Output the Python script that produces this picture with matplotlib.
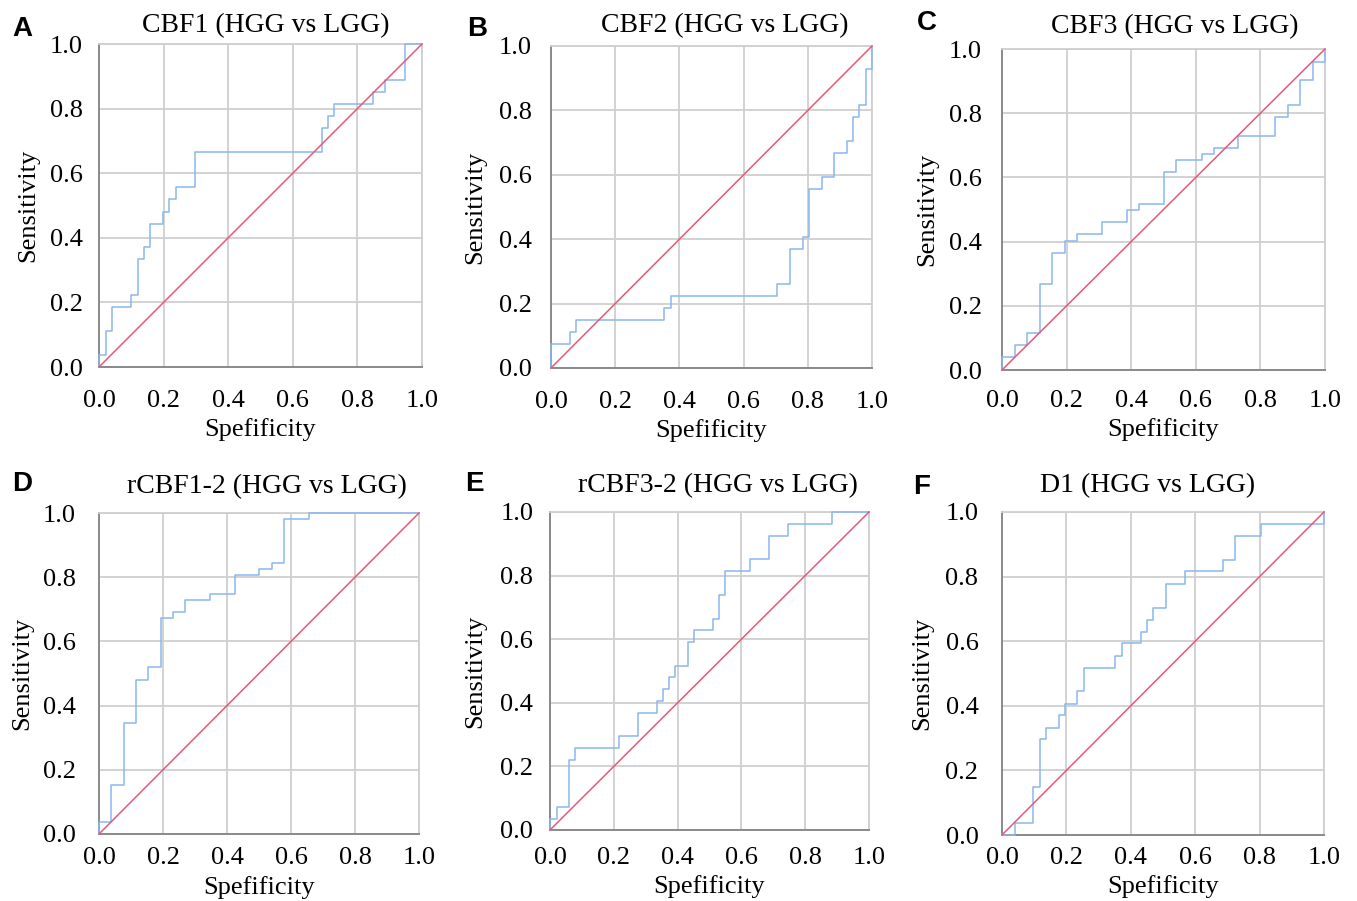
import matplotlib
matplotlib.use("Agg")
import matplotlib.pyplot as plt

# ROC step data: x positions of vertical jumps and sensitivity levels after each jump
titles = ["CBF1 (HGG vs LGG)", "CBF2 (HGG vs LGG)", "CBF3 (HGG vs LGG)",
          "rCBF1-2 (HGG vs LGG)", "rCBF3-2 (HGG vs LGG)", "D1 (HGG vs LGG)"]
letters = ["A", "B", "C", "D", "E", "F"]

a_x = [0, 0.022, 0.041, 0.099, 0.12, 0.14, 0.159, 0.199, 0.217, 0.238, 0.296, 0.689, 0.708, 0.728, 0.847, 0.886, 0.946]
a_y = [0.037, 0.111, 0.185, 0.222, 0.333, 0.370, 0.444, 0.481, 0.519, 0.556, 0.667, 0.741, 0.778, 0.815, 0.852, 0.889, 1.0]

b_x = [0, 0.059, 0.079, 0.353, 0.373, 0.705, 0.746, 0.784, 0.804, 0.843, 0.882, 0.922, 0.941, 0.961, 0.98, 1.0]
b_y = [0.074, 0.112, 0.149, 0.186, 0.223, 0.26, 0.371, 0.407, 0.555, 0.594, 0.668, 0.705, 0.78, 0.816, 0.928, 1.0]

c_x = [0, 0.039, 0.077, 0.117, 0.156, 0.194, 0.231, 0.309, 0.386, 0.425, 0.502, 0.54, 0.618, 0.656, 0.732, 0.845, 0.885, 0.924, 0.963, 1.0]
c_y = [0.039, 0.078, 0.116, 0.269, 0.366, 0.403, 0.423, 0.461, 0.499, 0.518, 0.616, 0.654, 0.674, 0.692, 0.73, 0.787, 0.826, 0.903, 0.961, 1.0]

d_x = [0, 0.039, 0.077, 0.116, 0.153, 0.193, 0.231, 0.269, 0.347, 0.425, 0.5, 0.541, 0.577, 0.656]
d_y = [0.038, 0.152, 0.345, 0.481, 0.519, 0.672, 0.691, 0.729, 0.749, 0.807, 0.827, 0.845, 0.98, 1.0]

e_x = [0, 0.021, 0.06, 0.079, 0.216, 0.275, 0.334, 0.354, 0.374, 0.392, 0.433, 0.452, 0.51, 0.53, 0.55, 0.626, 0.686, 0.746, 0.883]
e_y = [0.035, 0.072, 0.219, 0.258, 0.295, 0.369, 0.406, 0.444, 0.48, 0.516, 0.591, 0.628, 0.665, 0.739, 0.814, 0.851, 0.925, 0.962, 1.0]

f_x = [0, 0.039, 0.097, 0.118, 0.136, 0.177, 0.196, 0.234, 0.255, 0.352, 0.372, 0.432, 0.451, 0.47, 0.509, 0.569, 0.687, 0.725, 0.804, 1.0]
f_y = [0, 0.036, 0.148, 0.296, 0.332, 0.37, 0.407, 0.445, 0.518, 0.555, 0.593, 0.63, 0.666, 0.704, 0.778, 0.816, 0.852, 0.927, 0.964, 1.0]

series = [(a_x, a_y), (b_x, b_y), (c_x, c_y), (d_x, d_y), (e_x, e_y), (f_x, f_y)]
ticks = [0.0, 0.2, 0.4, 0.6, 0.8, 1.0]
tick_labels = ["0.0", "0.2", "0.4", "0.6", "0.8", "1.0"]

W, H = 1357, 901
fig = plt.figure(figsize=(W / 100, H / 100), dpi=100)

# axes boxes in pixels: left, top, right, bottom
boxes = [(99, 44, 422, 367), (551, 46, 872, 368), (1002, 49, 1325, 370),
         (99, 513, 419, 834), (550, 512, 869, 830), (1002, 512, 1324, 835)]
title_pos = [(266, 26), (725, 26), (1175, 27), (267, 487), (718, 486), (1148, 486)]
letter_pos = [(22, 29), (477, 29), (927, 23), (22, 484), (474, 484), (922, 487)]
ytick_pad = [11.5, 14, 14.4, 16.5, 12, 17]
xtick_pad = [16.5, 16.5, 14.4, 9.4, 12.2, 8.6]
ylabel_x = [28, 475, 927, 22, 475, 922]
xlabel_y = [430, 431, 430, 888, 887, 887]

serif = "Liberation Serif"
grid_c = "#cfcfcf"
blue = "#8ab8f0"
red = "#e45a78"

for i, (l, t, r, b) in enumerate(boxes):
    ax = fig.add_axes([l / W, 1 - b / H, (r - l) / W, (b - t) / H])
    xs, ys = series[i]
    ax.step(list(xs) + [1.0], [0.0] + list(ys), where="pre", color=blue, lw=1.1, clip_on=False, zorder=3)
    ax.plot([0, 1], [0, 1], color=red, lw=1.1, zorder=4, clip_on=False)
    ax.set_xlim(0, 1)
    ax.set_ylim(0, 1)
    ax.set_xticks(ticks)
    ax.set_yticks(ticks)
    ax.set_xticklabels(tick_labels, fontfamily=serif, fontsize=19)
    ax.set_yticklabels(tick_labels, fontfamily=serif, fontsize=19)
    ax.tick_params(axis="x", length=0, pad=xtick_pad[i])
    ax.tick_params(axis="y", length=0, pad=ytick_pad[i])
    ax.grid(True, color=grid_c, lw=1.3)
    ax.set_axisbelow(True)
    for s in ["top", "right"]:
        ax.spines[s].set_color(grid_c)
        ax.spines[s].set_linewidth(1.3)
    for s in ["left", "bottom"]:
        ax.spines[s].set_color("#8a8a8a")
        ax.spines[s].set_linewidth(1.4)
    ax.set_xlabel("Spefificity", fontfamily=serif, fontsize=19, va="center")
    ax.set_ylabel("Sensitivity", fontfamily=serif, fontsize=19, va="center")
    ax.yaxis.set_label_coords((ylabel_x[i] - l) / (r - l), 0.5)
    ax.xaxis.set_label_coords(0.5, (b - xlabel_y[i]) / (b - t))
    tx, ty = title_pos[i]
    fig.text(tx / W, 1 - ty / H, titles[i], fontfamily=serif, fontsize=20, ha="center", va="center")
    lx, ly = letter_pos[i]
    fig.text(lx / W, 1 - ly / H, letters[i], fontfamily="Liberation Sans", fontweight="bold",
             fontsize=20, ha="center", va="center")

fig.savefig("out.png", dpi=100)
